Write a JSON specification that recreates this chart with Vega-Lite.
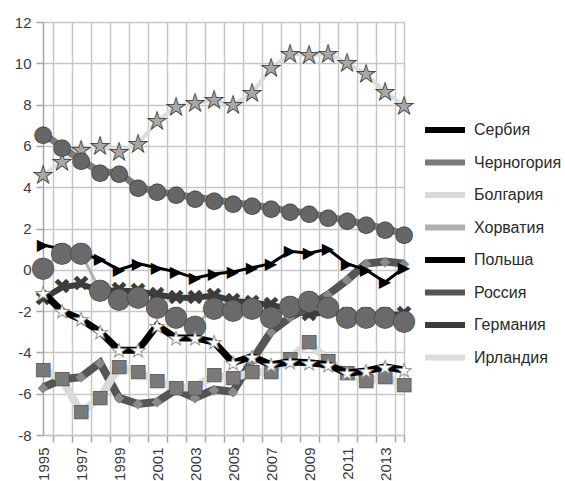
{
  "$schema": "https://vega.github.io/schema/vega-lite/v6.json",
  "width": 361,
  "height": 413,
  "autosize": {"type": "none"},
  "padding": {"left": 43, "top": 22, "right": 161, "bottom": 46},
  "background": "white",
  "config": {"font": "Liberation Sans", "view": {"stroke": null}},
  "data": {"values": [
    {"series":"Сербия","year":1995,"value":-1.1},{"series":"Сербия","year":1996,"value":-2.0},{"series":"Сербия","year":1997,"value":-2.4},{"series":"Сербия","year":1998,"value":-3.0},{"series":"Сербия","year":1999,"value":-3.9},{"series":"Сербия","year":2000,"value":-3.9},{"series":"Сербия","year":2001,"value":-2.7},{"series":"Сербия","year":2002,"value":-3.3},{"series":"Сербия","year":2003,"value":-3.3},{"series":"Сербия","year":2004,"value":-3.5},{"series":"Сербия","year":2005,"value":-4.5},{"series":"Сербия","year":2006,"value":-4.2},{"series":"Сербия","year":2007,"value":-4.6},{"series":"Сербия","year":2008,"value":-4.45},{"series":"Сербия","year":2009,"value":-4.5},{"series":"Сербия","year":2010,"value":-4.6},{"series":"Сербия","year":2011,"value":-5.0},{"series":"Сербия","year":2012,"value":-4.9},{"series":"Сербия","year":2013,"value":-4.7},{"series":"Сербия","year":2014,"value":-4.85},
    {"series":"Черногория","year":1995,"value":6.6},{"series":"Черногория","year":1996,"value":5.95},{"series":"Черногория","year":1997,"value":5.3},{"series":"Черногория","year":1998,"value":4.75},{"series":"Черногория","year":1999,"value":4.7},{"series":"Черногория","year":2000,"value":4.0},{"series":"Черногория","year":2001,"value":3.8},{"series":"Черногория","year":2002,"value":3.65},{"series":"Черногория","year":2003,"value":3.5},{"series":"Черногория","year":2004,"value":3.4},{"series":"Черногория","year":2005,"value":3.25},{"series":"Черногория","year":2006,"value":3.15},{"series":"Черногория","year":2007,"value":3.0},{"series":"Черногория","year":2008,"value":2.85},{"series":"Черногория","year":2009,"value":2.75},{"series":"Черногория","year":2010,"value":2.55},{"series":"Черногория","year":2011,"value":2.4},{"series":"Черногория","year":2012,"value":2.2},{"series":"Черногория","year":2013,"value":2.0},{"series":"Черногория","year":2014,"value":1.75},
    {"series":"Болгария","year":1995,"value":-4.85},{"series":"Болгария","year":1996,"value":-5.3},{"series":"Болгария","year":1997,"value":-6.9},{"series":"Болгария","year":1998,"value":-6.2},{"series":"Болгария","year":1999,"value":-4.7},{"series":"Болгария","year":2000,"value":-4.95},{"series":"Болгария","year":2001,"value":-5.4},{"series":"Болгария","year":2002,"value":-5.7},{"series":"Болгария","year":2003,"value":-5.7},{"series":"Болгария","year":2004,"value":-5.1},{"series":"Болгария","year":2005,"value":-5.25},{"series":"Болгария","year":2006,"value":-4.95},{"series":"Болгария","year":2007,"value":-4.95},{"series":"Болгария","year":2008,"value":-4.3},{"series":"Болгария","year":2009,"value":-3.5},{"series":"Болгария","year":2010,"value":-4.4},{"series":"Болгария","year":2011,"value":-5.0},{"series":"Болгария","year":2012,"value":-5.4},{"series":"Болгария","year":2013,"value":-5.2},{"series":"Болгария","year":2014,"value":-5.6},
    {"series":"Хорватия","year":1995,"value":0.1},{"series":"Хорватия","year":1996,"value":0.8},{"series":"Хорватия","year":1997,"value":0.8},{"series":"Хорватия","year":1998,"value":-1.0},{"series":"Хорватия","year":1999,"value":-1.4},{"series":"Хорватия","year":2000,"value":-1.3},{"series":"Хорватия","year":2001,"value":-1.8},{"series":"Хорватия","year":2002,"value":-2.3},{"series":"Хорватия","year":2003,"value":-2.7},{"series":"Хорватия","year":2004,"value":-1.85},{"series":"Хорватия","year":2005,"value":-1.95},{"series":"Хорватия","year":2006,"value":-1.85},{"series":"Хорватия","year":2007,"value":-2.3},{"series":"Хорватия","year":2008,"value":-1.75},{"series":"Хорватия","year":2009,"value":-1.5},{"series":"Хорватия","year":2010,"value":-1.8},{"series":"Хорватия","year":2011,"value":-2.3},{"series":"Хорватия","year":2012,"value":-2.3},{"series":"Хорватия","year":2013,"value":-2.3},{"series":"Хорватия","year":2014,"value":-2.5},
    {"series":"Польша","year":1995,"value":1.2},{"series":"Польша","year":1996,"value":1.0},{"series":"Польша","year":1997,"value":0.8},{"series":"Польша","year":1998,"value":0.5},{"series":"Польша","year":1999,"value":0.0},{"series":"Польша","year":2000,"value":0.3},{"series":"Польша","year":2001,"value":0.1},{"series":"Польша","year":2002,"value":-0.1},{"series":"Польша","year":2003,"value":-0.4},{"series":"Польша","year":2004,"value":-0.2},{"series":"Польша","year":2005,"value":-0.1},{"series":"Польша","year":2006,"value":0.1},{"series":"Польша","year":2007,"value":0.3},{"series":"Польша","year":2008,"value":0.9},{"series":"Польша","year":2009,"value":0.8},{"series":"Польша","year":2010,"value":1.0},{"series":"Польша","year":2011,"value":0.3},{"series":"Польша","year":2012,"value":0.0},{"series":"Польша","year":2013,"value":-0.6},{"series":"Польша","year":2014,"value":0.1},
    {"series":"Россия","year":1995,"value":-5.7},{"series":"Россия","year":1996,"value":-5.3},{"series":"Россия","year":1997,"value":-5.2},{"series":"Россия","year":1998,"value":-4.5},{"series":"Россия","year":1999,"value":-6.2},{"series":"Россия","year":2000,"value":-6.5},{"series":"Россия","year":2001,"value":-6.4},{"series":"Россия","year":2002,"value":-5.8},{"series":"Россия","year":2003,"value":-6.2},{"series":"Россия","year":2004,"value":-5.8},{"series":"Россия","year":2005,"value":-5.9},{"series":"Россия","year":2006,"value":-4.4},{"series":"Россия","year":2007,"value":-3.0},{"series":"Россия","year":2008,"value":-2.3},{"series":"Россия","year":2009,"value":-1.8},{"series":"Россия","year":2010,"value":-1.2},{"series":"Россия","year":2011,"value":-0.5},{"series":"Россия","year":2012,"value":0.3},{"series":"Россия","year":2013,"value":0.4},{"series":"Россия","year":2014,"value":0.3},
    {"series":"Германия","year":1995,"value":-1.4},{"series":"Германия","year":1996,"value":-0.85},{"series":"Германия","year":1997,"value":-0.7},{"series":"Германия","year":1998,"value":-1.0},{"series":"Германия","year":1999,"value":-1.0},{"series":"Германия","year":2000,"value":-1.05},{"series":"Германия","year":2001,"value":-1.2},{"series":"Германия","year":2002,"value":-1.35},{"series":"Германия","year":2003,"value":-1.35},{"series":"Германия","year":2004,"value":-1.25},{"series":"Германия","year":2005,"value":-1.5},{"series":"Германия","year":2006,"value":-1.6},{"series":"Германия","year":2007,"value":-1.7},{"series":"Германия","year":2008,"value":-1.9},{"series":"Германия","year":2009,"value":-2.2},{"series":"Германия","year":2010,"value":-2.0},{"series":"Германия","year":2011,"value":-2.2},{"series":"Германия","year":2012,"value":-2.2},{"series":"Германия","year":2013,"value":-2.2},{"series":"Германия","year":2014,"value":-2.15},
    {"series":"Ирландия","year":1995,"value":4.6},{"series":"Ирландия","year":1996,"value":5.2},{"series":"Ирландия","year":1997,"value":5.8},{"series":"Ирландия","year":1998,"value":6.0},{"series":"Ирландия","year":1999,"value":5.7},{"series":"Ирландия","year":2000,"value":6.1},{"series":"Ирландия","year":2001,"value":7.2},{"series":"Ирландия","year":2002,"value":7.9},{"series":"Ирландия","year":2003,"value":8.1},{"series":"Ирландия","year":2004,"value":8.2},{"series":"Ирландия","year":2005,"value":8.0},{"series":"Ирландия","year":2006,"value":8.55},{"series":"Ирландия","year":2007,"value":9.75},{"series":"Ирландия","year":2008,"value":10.45},{"series":"Ирландия","year":2009,"value":10.4},{"series":"Ирландия","year":2010,"value":10.45},{"series":"Ирландия","year":2011,"value":10.0},{"series":"Ирландия","year":2012,"value":9.5},{"series":"Ирландия","year":2013,"value":8.6},{"series":"Ирландия","year":2014,"value":7.95}
  ]},
  "encoding": {
    "x": {"field": "year", "type": "quantitative", "scale": {"domain": [1995, 2014], "nice": false, "zero": false},
      "axis": {"title": null, "values": [1995.5, 1996.5, 1997.5, 1998.5, 1999.5, 2000.5, 2001.5, 2002.5, 2003.5, 2004.5, 2005.5, 2006.5, 2007.5, 2008.5, 2009.5, 2010.5, 2011.5, 2012.5, 2013.5, 2014], "labelExpr": "(datum.value - 0.5) % 2 == 1 ? '' + (datum.value - 0.5) : ''", "labelOffset": -9.5, "grid": true, "gridColor": "#c6c6c6", "gridWidth": 1.5, "tickSize": 7, "tickColor": "#a6a6a6", "tickWidth": 1.5, "domainColor": "#c6c6c6", "domainWidth": 1.5, "labelAngle": 270, "labelFontSize": 15, "labelColor": "#3a3a3a", "labelPadding": 5, "labelOverlap": false, "labelFlush": false}},
    "y": {"field": "value", "type": "quantitative", "scale": {"domain": [-8, 12], "nice": false, "zero": false},
      "axis": {"title": null, "values": [-8, -6, -4, -2, 0, 2, 4, 6, 8, 10, 12], "grid": true, "gridColor": "#c6c6c6", "gridWidth": 1.5, "tickSize": 7, "tickColor": "#a6a6a6", "tickWidth": 1.5, "domainColor": "#a6a6a6", "domainWidth": 1.5, "labelFontSize": 15, "labelColor": "#3a3a3a", "labelPadding": 5, "labelFlush": false, "labelExpr": "datum.value < 0 ? '-' + abs(datum.value) : '' + datum.value"}}
  },
  "layer": [
    {"transform": [{"filter": "datum.series == 'Ирландия'"}], "mark": {"type": "line", "strokeWidth": 4, "stroke": "#dcdcdc"}, "encoding": {}},
    {"transform": [{"filter": "datum.series == 'Ирландия'"}], "encoding": {},
     "mark": {"type": "text", "text": "★", "font": "DejaVu Sans", "fontSize": 24, "baseline": "middle", "align": "center", "dy": 1, "fill": "#a8a8a8", "stroke": "#3a3a3a", "strokeWidth": 0.8}},
    {"transform": [{"filter": "datum.series == 'Германия'"}], "mark": {"type": "line", "strokeWidth": 6, "stroke": "#3c3c3c"}, "encoding": {}},
    {"transform": [{"filter": "datum.series == 'Германия'"}], "encoding": {},
     "mark": {"type": "text", "text": "✖", "font": "DejaVu Sans", "fontSize": 22, "baseline": "middle", "align": "center", "fill": "#3c3c3c"}},
    {"transform": [{"filter": "datum.series == 'Россия'"}], "mark": {"type": "line", "strokeWidth": 8, "stroke": "#555555"}, "encoding": {}},
    {"transform": [{"filter": "datum.series == 'Россия'"}], "encoding": {},
     "mark": {"type": "text", "text": "◆", "font": "DejaVu Sans", "fontSize": 14, "baseline": "middle", "align": "center", "fill": "#8a8a8a"}},
    {"transform": [{"filter": "datum.series == 'Польша'"}], "mark": {"type": "line", "strokeWidth": 3, "stroke": "#000000"}, "encoding": {}},
    {"transform": [{"filter": "datum.series == 'Польша'"}], "encoding": {},
     "mark": {"type": "text", "text": "▶", "font": "DejaVu Sans", "fontSize": 16, "baseline": "middle", "align": "center", "fill": "#000000"}},
    {"transform": [{"filter": "datum.series == 'Хорватия'"}], "mark": {"type": "line", "strokeWidth": 3, "stroke": "#b0b0b0"}, "encoding": {}},
    {"transform": [{"filter": "datum.series == 'Хорватия'"}], "encoding": {},
     "mark": {"type": "text", "text": "●", "font": "DejaVu Sans", "fontSize": 28, "baseline": "middle", "align": "center", "fill": "#6a6a6a", "stroke": "#3a3a3a", "strokeWidth": 0.6}},
    {"transform": [{"filter": "datum.series == 'Болгария'"}], "mark": {"type": "line", "strokeWidth": 8, "stroke": "#dadada"}, "encoding": {}},
    {"transform": [{"filter": "datum.series == 'Болгария'"}], "encoding": {},
     "mark": {"type": "text", "text": "■", "font": "DejaVu Sans", "fontSize": 18, "baseline": "middle", "align": "center", "fill": "#7a7a7a", "stroke": "#444444", "strokeWidth": 0.6}},
    {"transform": [{"filter": "datum.series == 'Черногория'"}], "mark": {"type": "line", "strokeWidth": 7, "stroke": "#7a7a7a"}, "encoding": {}},
    {"transform": [{"filter": "datum.series == 'Черногория'"}], "encoding": {},
     "mark": {"type": "text", "text": "●", "font": "DejaVu Sans", "fontSize": 22, "baseline": "middle", "align": "center", "fill": "#666666", "stroke": "#333333", "strokeWidth": 0.6}},
    {"transform": [{"filter": "datum.series == 'Сербия'"}], "mark": {"type": "line", "strokeWidth": 7, "stroke": "#000000"}, "encoding": {}},
    {"transform": [{"filter": "datum.series == 'Сербия'"}], "encoding": {},
     "mark": {"type": "text", "text": "★", "font": "DejaVu Sans", "fontSize": 19, "baseline": "middle", "align": "center", "dy": 1, "fill": "#ffffff", "stroke": "#8a8a8a", "strokeWidth": 0.8}},
    {"mark": {"type": "text", "text": ""},
     "encoding": {
       "stroke": {"field": "series", "type": "nominal",
         "scale": {"domain": ["Сербия", "Черногория", "Болгария", "Хорватия", "Польша", "Россия", "Германия", "Ирландия"], "range": ["#000000", "#7a7a7a", "#dadada", "#b0b0b0", "#000000", "#555555", "#3c3c3c", "#dcdcdc"]},
         "legend": {"title": null, "orient": "none", "legendX": 389, "legendY": 95, "symbolType": "M-2,0H2", "symbolSize": 400, "symbolStrokeWidth": 6, "labelFontSize": 16, "labelColor": "#2a2a2a", "labelOffset": 16, "rowPadding": 7.5, "padding": 0}}
     }}
  ]
}
